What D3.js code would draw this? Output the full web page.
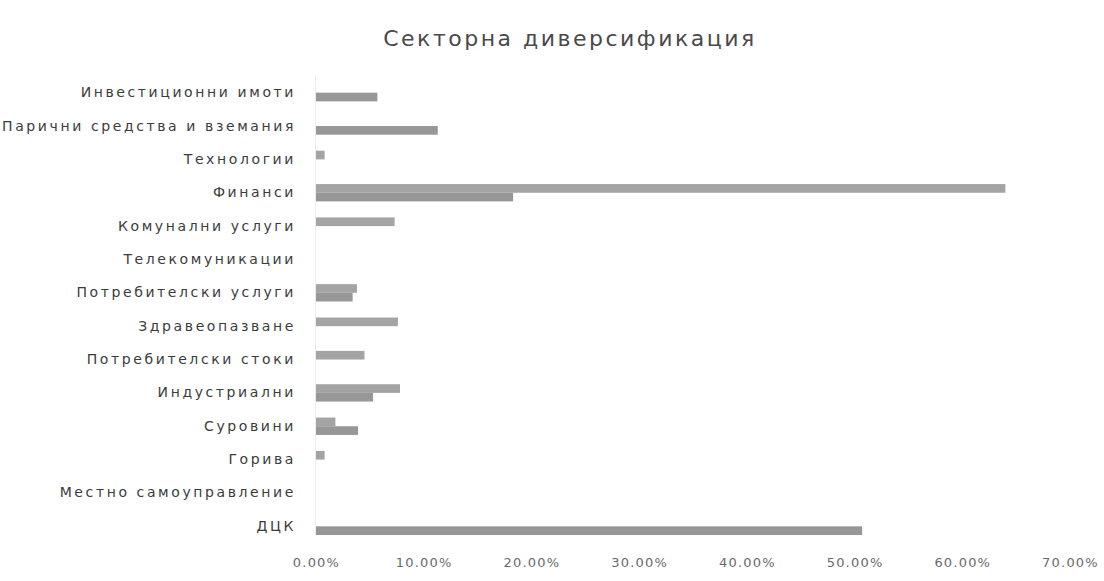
<!DOCTYPE html>
<html>
<head>
<meta charset="utf-8">
<script src="https://cdn.jsdelivr.net/npm/d3@7"></script>
<style>
  html, body { margin: 0; padding: 0; background: #ffffff; }
  svg { display: block; }
</style>
</head>
<body>
<div id="chart"></div>
<script>
// Sector breakdown, two series (share of each portfolio, %)
const categories = [
  "Инвестиционни имоти",
  "Парични средства и вземания",
  "Технологии",
  "Финанси",
  "Комунални услуги",
  "Телекомуникации",
  "Потребителски услуги",
  "Здравеопазване",
  "Потребителски стоки",
  "Индустриални",
  "Суровини",
  "Горива",
  "Местно самоуправление",
  "ДЦК"
];
// upper bar of each pair
const seriesA = [0, 0, 0.8, 64.0, 7.3, 0, 3.8, 7.6, 4.5, 7.8, 1.8, 0.8, 0, 0];
// lower bar of each pair
const seriesB = [5.7, 11.3, 0, 18.3, 0, 0, 3.4, 0, 0, 5.3, 3.9, 0, 0, 50.7];
const seriesNames = ["A", "B"];
const tickValues = [0, 10, 20, 30, 40, 50, 60, 70];

const W = 1104, H = 581;
const margin = { left: 316, right: 34, top: 76, bottom: 38 };

const svg = d3.select("#chart").append("svg")
  .attr("width", W).attr("height", H);

// title
svg.append("text")
  .attr("x", 570).attr("y", 46)
  .attr("text-anchor", "middle")
  .attr("font-family", "DejaVu Sans, sans-serif")
  .attr("font-size", 22)
  .attr("letter-spacing", 2.5)
  .attr("fill", "#4a4a4a")
  .text("Секторна диверсификация");

const x = d3.scaleLinear().domain([0, 70]).range([margin.left, W - margin.right]);
const y = d3.scaleBand().domain(categories)
  .range([margin.top, H - margin.bottom]).paddingInner(0.48).paddingOuter(0.24);
const ySub = d3.scaleBand().domain(seriesNames).range([0, y.bandwidth()]);

const colors = { A: "#a4a4a4", B: "#979797" };

const rows = categories.map((c, i) => ({ cat: c, A: seriesA[i], B: seriesB[i] }));

// vertical axis line
svg.append("line")
  .attr("x1", x(0) - 0.5).attr("x2", x(0) - 0.5)
  .attr("y1", margin.top).attr("y2", H - margin.bottom - 8)
  .attr("stroke", "#ececec").attr("stroke-width", 1);

const groups = svg.append("g").selectAll("g")
  .data(rows).join("g")
  .attr("transform", d => `translate(0,${y(d.cat)})`);

groups.selectAll("rect")
  .data(d => seriesNames.map(k => ({ key: k, value: d[k] })).filter(e => e.value > 0))
  .join("rect")
  .attr("x", x(0))
  .attr("y", d => ySub(d.key))
  .attr("width", d => x(d.value) - x(0))
  .attr("height", ySub.bandwidth())
  .attr("fill", d => colors[d.key]);

// category labels
const yAxis = d3.axisLeft(y).tickSize(0).tickPadding(20);
svg.append("g")
  .attr("transform", `translate(${x(0)},0)`)
  .call(yAxis)
  .call(g => g.select(".domain").remove())
  .call(g => g.selectAll("text")
    .attr("font-family", "DejaVu Sans, sans-serif")
    .attr("font-size", 14)
    .attr("letter-spacing", 2.6)
    .attr("fill", "#3c3c3c"));

// value axis
const xAxis = d3.axisBottom(x).tickValues(tickValues)
  .tickFormat(v => (v).toFixed(2) + "%").tickSize(0).tickPadding(15);
svg.append("g")
  .attr("transform", `translate(0,${H - margin.bottom})`)
  .call(xAxis)
  .call(g => g.select(".domain").remove())
  .call(g => g.selectAll("text")
    .attr("font-family", "DejaVu Sans, sans-serif")
    .attr("font-size", 13)
    .attr("letter-spacing", 1.2)
    .attr("fill", "#6a6a6a"));
</script>
</body>
</html>
